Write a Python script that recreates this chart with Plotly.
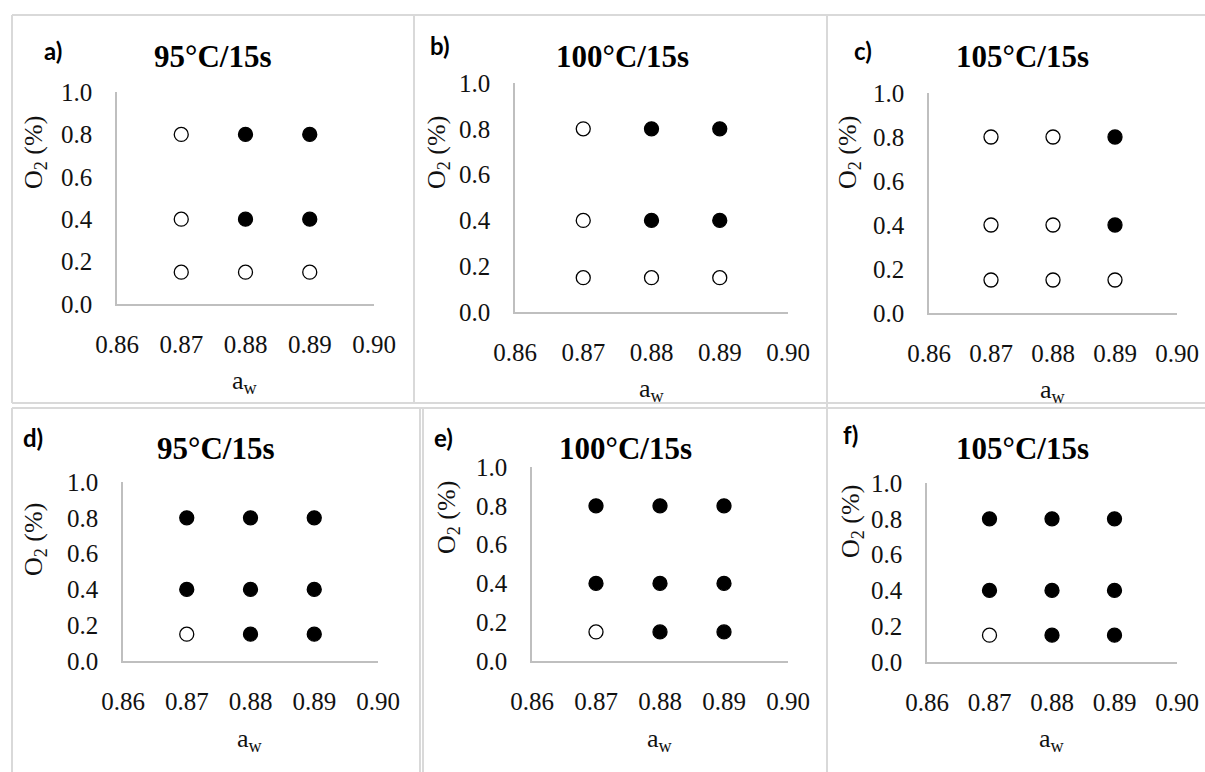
import plotly.graph_objects as go

W, H = 1205, 772

# ---- data ----
aw = [0.87, 0.88, 0.89, 0.87, 0.88, 0.89, 0.87, 0.88, 0.89]
o2 = [0.8, 0.8, 0.8, 0.4, 0.4, 0.4, 0.15, 0.15, 0.15]

growth_a = [0, 1, 1, 0, 1, 1, 0, 0, 0]
growth_b = [0, 1, 1, 0, 1, 1, 0, 0, 0]
growth_c = [0, 0, 1, 0, 0, 1, 0, 0, 0]
growth_d = [1, 1, 1, 1, 1, 1, 0, 1, 1]
growth_e = [1, 1, 1, 1, 1, 1, 0, 1, 1]
growth_f = [1, 1, 1, 1, 1, 1, 0, 1, 1]

panel_letters = ["a)", "b)", "c)", "d)", "e)", "f)"]
panel_titles = ["95°C/15s", "100°C/15s", "105°C/15s", "95°C/15s", "100°C/15s", "105°C/15s"]
growth = [growth_a, growth_b, growth_c, growth_d, growth_e, growth_f]

x_ticks = [0.86, 0.87, 0.88, 0.89, 0.90]
x_ticklabels = ["0.86", "0.87", "0.88", "0.89", "0.90"]
y_ticks = [0.0, 0.2, 0.4, 0.6, 0.8, 1.0]
y_ticklabels = ["0.0", "0.2", "0.4", "0.6", "0.8", "1.0"]

# ---- layout geometry (pixels) ----
plot_boxes = [  # x0, x1, ytop, ybottom
    (117, 374, 92, 304),
    (515, 788, 83, 312),
    (929, 1177, 93, 313),
    (123, 378, 482, 661),
    (532, 788, 467, 661),
    (927, 1177, 483, 662),
]
letter_pos = [(53, 50), (440, 46), (863, 50), (33, 437), (443, 437), (850, 434)]
title_pos = [(212, 56), (622, 56), (1022, 56), (215, 449), (625, 449), (1022, 449)]
ytitle_pos = [(35, 153), (438, 153), (849, 153), (35, 540), (448, 518), (852, 522)]
xtitle_pos = [(245, 382), (652, 390), (1053, 391), (250, 740), (660, 740), (1052, 740)]

def px(x):
    return x / W

def py(y):
    return 1 - y / H

SERIF = "Liberation Serif"
TXT = "#111111"
fig = go.Figure()
annotations = []
shapes = []

for i in range(6):
    n = i + 1
    xa = "x" if n == 1 else f"x{n}"
    ya = "y" if n == 1 else f"y{n}"
    x0, x1, yt, yb = plot_boxes[i]
    g = growth[i]
    fig.add_trace(go.Scatter(
        x=aw, y=o2, xaxis=xa, yaxis=ya, mode="markers",
        marker=dict(
            size=14,
            color=["black" if v else "white" for v in g],
            line=dict(color="black", width=1.3),
        ),
        showlegend=False, hoverinfo="x+y",
    ))
    xkey = "xaxis" if n == 1 else f"xaxis{n}"
    ykey = "yaxis" if n == 1 else f"yaxis{n}"
    fig.update_layout(**{
        xkey: dict(
            domain=[px(x0), px(x1)], anchor=ya, range=[0.86, 0.90],
            tickmode="array", tickvals=x_ticks, ticktext=x_ticklabels,
            showgrid=False, zeroline=False, showline=True,
            linecolor="#bfbfbf", linewidth=1.5, ticks="",
            ticklabelstandoff=17, automargin=False,
            tickfont=dict(family=SERIF, size=25, color=TXT),
            fixedrange=True,
        ),
        ykey: dict(
            domain=[py(yb), py(yt)], anchor=xa, range=[0, 1.0],
            tickmode="array", tickvals=y_ticks, ticktext=y_ticklabels,
            showgrid=False, zeroline=False, showline=True,
            linecolor="#bfbfbf", linewidth=1.5, ticks="",
            ticklabelstandoff=18, automargin=False,
            tickfont=dict(family=SERIF, size=25, color=TXT),
            fixedrange=True,
        ),
    })
    lx, ly = letter_pos[i]
    annotations.append(dict(
        text=f"<b>{panel_letters[i]}</b>", x=px(lx), y=py(ly), xref="paper", yref="paper",
        showarrow=False, xanchor="center", yanchor="middle",
        font=dict(family="Lato", size=24, color="black"),
    ))
    tx, ty = title_pos[i]
    annotations.append(dict(
        text=f"<b>{panel_titles[i]}</b>", x=px(tx), y=py(ty), xref="paper", yref="paper",
        showarrow=False, xanchor="center", yanchor="middle",
        font=dict(family=SERIF, size=31, color="black"),
    ))
    yx, yy = ytitle_pos[i]
    annotations.append(dict(
        text="O<sub>2</sub> (%)", x=px(yx), y=py(yy), xref="paper", yref="paper",
        showarrow=False, xanchor="center", yanchor="middle", textangle=-90,
        font=dict(family=SERIF, size=26, color=TXT),
    ))
    xx, xy = xtitle_pos[i]
    annotations.append(dict(
        text="a<sub>w</sub>", x=px(xx), y=py(xy), xref="paper", yref="paper",
        showarrow=False, xanchor="center", yanchor="middle",
        font=dict(family=SERIF, size=26, color=TXT),
    ))

# panel frame lines (pixels)
border = "#d9d9d9"
frame_lines = [
    (12, 15, 1205, 15),
    (12, 403, 1205, 403),
    (12, 408, 1205, 408),
    (12, 15, 12, 403),
    (12, 408, 12, 772),
    (414, 15, 414, 403),
    (420, 408, 420, 772),
    (423, 408, 423, 772),
    (827, 15, 827, 772),
]
for (ax0, ay0, ax1, ay1) in frame_lines:
    shapes.append(dict(
        type="line", xref="paper", yref="paper",
        x0=px(ax0), y0=py(ay0), x1=px(ax1), y1=py(ay1),
        line=dict(color=border, width=2),
    ))

fig.update_layout(
    width=W, height=H,
    margin=dict(l=0, r=0, t=0, b=0, pad=0, autoexpand=False),
    font=dict(family=SERIF, size=24, color=TXT),
    paper_bgcolor="white", plot_bgcolor="white",
    annotations=annotations, shapes=shapes,
    showlegend=False,
)

fig.write_html("out.html")
